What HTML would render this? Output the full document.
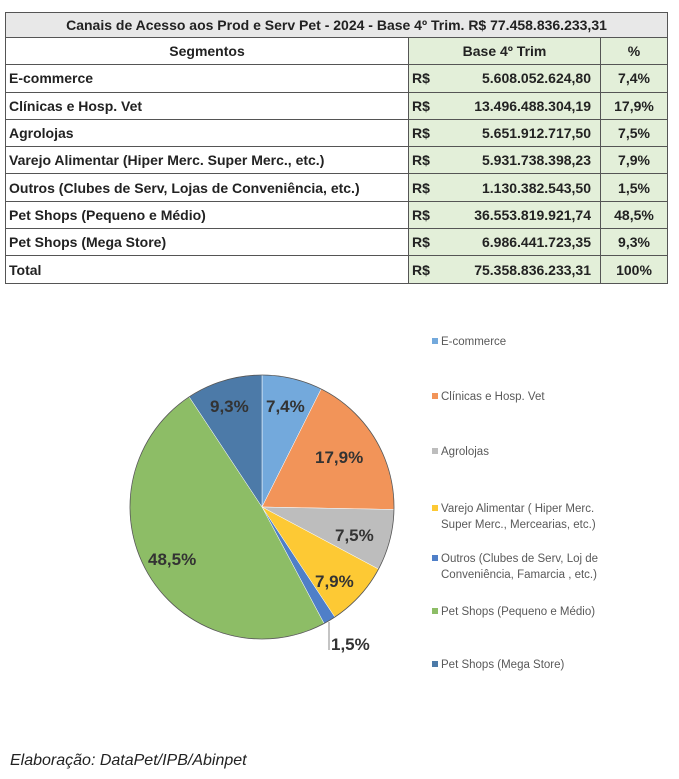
<!DOCTYPE html>
<html><head><meta charset="utf-8"><style>
body{margin:0;width:679px;height:779px;background:#fff;position:relative;font-family:"Liberation Sans",sans-serif;overflow:hidden}
table{position:absolute;left:5px;top:12px;border-collapse:collapse;width:663px;font-size:14px;font-weight:bold;color:#222}
td{border:1px solid #555;height:26.3px;padding:0 3px;white-space:nowrap}
.t{background:#e8e8e8;text-align:center;font-weight:bold;height:24px}
.g{background:#e3efd9}
.h{text-align:center;font-weight:bold}
.v{display:flex;justify-content:space-between;padding-right:6px}
.p{text-align:center}
.lg{position:absolute;left:432px;font-size:11.5px;color:#595959;line-height:16px}
.lg i{position:absolute;left:0;top:4px;width:6px;height:6px}
.lg span{margin-left:9px;display:block}
</style></head><body>
<table>
<tr><td colspan="3" class="t">Canais de Acesso aos Prod e Serv Pet - 2024 - Base 4º Trim. R$ 77.458.836.233,31</td></tr>
<tr><td class="h" style="width:396px">Segmentos</td><td class="h g" style="width:185px">Base 4º Trim</td><td class="h g">%</td></tr>
<tr><td>E-commerce</td><td class="g"><div class="v"><span>R$</span><span>5.608.052.624,80</span></div></td><td class="g p">7,4%</td></tr>
<tr><td>Clínicas e Hosp. Vet</td><td class="g"><div class="v"><span>R$</span><span>13.496.488.304,19</span></div></td><td class="g p">17,9%</td></tr>
<tr><td>Agrolojas</td><td class="g"><div class="v"><span>R$</span><span>5.651.912.717,50</span></div></td><td class="g p">7,5%</td></tr>
<tr><td>Varejo Alimentar (Hiper Merc. Super Merc., etc.)</td><td class="g"><div class="v"><span>R$</span><span>5.931.738.398,23</span></div></td><td class="g p">7,9%</td></tr>
<tr><td>Outros (Clubes de Serv, Lojas de Conveniência, etc.)</td><td class="g"><div class="v"><span>R$</span><span>1.130.382.543,50</span></div></td><td class="g p">1,5%</td></tr>
<tr><td>Pet Shops (Pequeno e Médio)</td><td class="g"><div class="v"><span>R$</span><span>36.553.819.921,74</span></div></td><td class="g p">48,5%</td></tr>
<tr><td>Pet Shops (Mega Store)</td><td class="g"><div class="v"><span>R$</span><span>6.986.441.723,35</span></div></td><td class="g p">9,3%</td></tr>
<tr><td>Total</td><td class="g"><div class="v"><span>R$</span><span>75.358.836.233,31</span></div></td><td class="g p">100%</td></tr>
</table>
<svg width="679" height="779" style="position:absolute;left:0;top:0">
<g stroke="#fff" stroke-width="0.5">
<path d="M262,507 L262,375 A132,132 0 0 1 321.2,389 Z" fill="#73a9dc"/>
<path d="M262,507 L321.2,389 A132,132 0 0 1 394,509.5 Z" fill="#f29459"/>
<path d="M262,507 L394,509.5 A132,132 0 0 1 378.5,569.1 Z" fill="#bdbdbd"/>
<path d="M262,507 L378.5,569.1 A132,132 0 0 1 334.8,617.1 Z" fill="#fdc934"/>
<path d="M262,507 L334.8,617.1 A132,132 0 0 1 324.1,623.5 Z" fill="#4f7fc8"/>
<path d="M262,507 L324.1,623.5 A132,132 0 0 1 189.2,396.9 Z" fill="#8dbd66"/>
<path d="M262,507 L189.2,396.9 A132,132 0 0 1 262,375 Z" fill="#4c7aa8"/>
</g>
<circle cx="262" cy="507" r="132" fill="none" stroke="#555" stroke-width="0.8"/>
<line x1="329" y1="622" x2="329" y2="650" stroke="#888"/>
<g font-size="17" font-weight="bold" fill="#333">
<text x="210" y="412">9,3%</text><text x="266" y="412">7,4%</text>
<text x="315" y="463">17,9%</text><text x="335" y="541">7,5%</text>
<text x="315" y="587">7,9%</text><text x="148" y="565">48,5%</text>
<text x="331" y="650">1,5%</text>
</g>
<text x="10" y="765" font-size="16" font-style="italic" fill="#222">Elaboração: DataPet/IPB/Abinpet</text>
</svg>
<div class="lg" style="top:334px"><i style="background:#73a9dc"></i><span>E-commerce</span></div>
<div class="lg" style="top:389px"><i style="background:#f29459"></i><span>Clínicas e Hosp. Vet</span></div>
<div class="lg" style="top:444px"><i style="background:#bdbdbd"></i><span>Agrolojas</span></div>
<div class="lg" style="top:501px"><i style="background:#fdc934"></i><span>Varejo Alimentar ( Hiper Merc.<br>Super Merc., Mercearias, etc.)</span></div>
<div class="lg" style="top:551px"><i style="background:#4f7fc8"></i><span>Outros (Clubes de Serv, Loj de<br>Conveniência, Famarcia , etc.)</span></div>
<div class="lg" style="top:604px"><i style="background:#8dbd66"></i><span>Pet Shops (Pequeno e Médio)</span></div>
<div class="lg" style="top:657px"><i style="background:#4c7aa8"></i><span>Pet Shops (Mega Store)</span></div>
</body></html>
